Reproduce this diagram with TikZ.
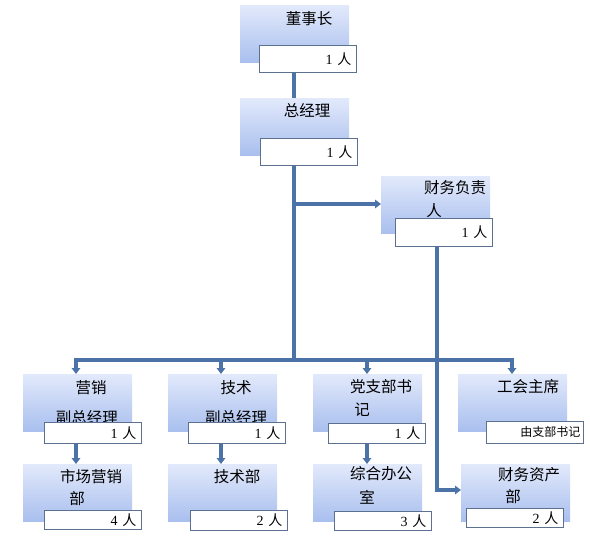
\documentclass[tikz,border=0pt]{standalone}
\usepackage{fontspec}
\setmainfont{Liberation Serif}
\newfontfamily\cjk{Noto Sans CJK SC}
\usetikzlibrary{arrows.meta}
\definecolor{bTop}{HTML}{E2E9FB}
\definecolor{bBot}{HTML}{A9BFEE}
\definecolor{connc}{HTML}{4C73A8}
\definecolor{boxline}{HTML}{5C7190}
\newcommand\nm[1]{{\rmfamily #1}}
\begin{document}
\begin{tikzpicture}[x=1pt,y=-1pt,
  bluebox/.style={rectangle, anchor=north west, minimum width=109pt, minimum height=57pt,
    inner sep=0pt, top color=bTop, bottom color=bBot, draw=none},
  cntbox/.style={rectangle, anchor=north west, fill=white, draw=boxline, line width=0.7pt,
    minimum height=#1, text width=87pt, inner xsep=5pt, inner ysep=0pt, align=right,
    font=\cjk\fontsize{14pt}{16pt}\selectfont},
  lbl/.style={inner sep=0pt, font=\cjk\fontsize{15.5pt}{17pt}\selectfont},
  conn/.style={draw=connc, line width=3.2pt},
  arr/.style={conn, -{Triangle[length=6pt,width=8.5pt]}}
]
\useasboundingbox (0,0) rectangle (590,538);
% coordinates
\coordinate (bus) at (294,360);
\coordinate (c1) at (76,360);
\coordinate (c2) at (221,360);
\coordinate (c3) at (367,360);
\coordinate (c4) at (512,360);
\coordinate (j1) at (294,204);
\coordinate (f2) at (437,490);

% row 0
\node[bluebox] (b1) at (240,5) {};
\node[lbl] (t1) at (309,19) {董事长};
\node[bluebox] (b2) at (240,98) {};
\node[lbl] (t2) at (307,111) {总经理};
\node[bluebox] (b3) at (381,176) {};
\node[lbl] (t3a) at (455,188) {财务负责};
\node[lbl] (t3b) at (434,211) {人};

% row 1
\node[bluebox] (b4) at (23,374) {};
\node[lbl] (t4a) at (91,388) {营销};
\node[lbl] (t4b) at (87,418) {副总经理};
\node[bluebox] (b5) at (168,374) {};
\node[lbl] (t5a) at (236,388) {技术};
\node[lbl] (t5b) at (236,418) {副总经理};
\node[bluebox] (b6) at (313,374) {};
\node[lbl] (t6a) at (381,387) {党支部书};
\node[lbl] (t6b) at (362,410) {记};
\node[bluebox] (b7) at (458,374) {};
\node[lbl] (t7) at (528,387) {工会主席};

% row 2
\node[bluebox] (b8) at (23,464) {};
\node[lbl] (t8a) at (91,477) {市场营销};
\node[lbl] (t8b) at (77,499) {部};
\node[bluebox] (b9) at (168,464) {};
\node[lbl] (t9) at (237,477) {技术部};
\node[bluebox] (b10) at (313,464) {};
\node[lbl] (t10a) at (381,474) {综合办公};
\node[lbl] (t10b) at (367,497) {室};
\node[bluebox] (b11) at (461,464) {};
\node[lbl] (t11a) at (529,475) {财务资产};
\node[lbl] (t11b) at (513,497) {部};

% count boxes
\node[cntbox=27pt] (w1) at (259,45) {\nm{1}~人};
\node[cntbox=27pt] (w2) at (260,138) {\nm{1}~人};
\node[cntbox=28pt] (w3) at (395,218) {\nm{1}~人};
\node[cntbox=21pt] (w4) at (44,422) {\nm{1}~人};
\node[cntbox=21pt] (w5) at (188,422) {\nm{1}~人};
\node[cntbox=20pt] (w6) at (328,423) {\nm{1}~人};
\node[cntbox=22pt, font=\cjk\fontsize{12pt}{14pt}\selectfont, inner xsep=3pt, text width=91pt] (w7) at (486,421) {由支部书记};
\node[cntbox=19pt] (w8) at (44,510) {\nm{4}~人};
\node[cntbox=20pt] (w9) at (190,510) {\nm{2}~人};
\node[cntbox=19pt] (w10) at (334,511) {\nm{3}~人};
\node[cntbox=19pt] (w11) at (466,508) {\nm{2}~人};

% connectors
\draw[conn] (w1.south -| bus) -- (b2.north -| bus);
\draw[conn] (w2.south -| bus) -- (bus);
\draw[arr] (j1) -- (b3.west |- j1);
\draw[conn, line cap=rect] (c1) -- (c4);
\draw[arr] (c1) -- (b4.north -| c1);
\draw[arr] (c2) -- (b5.north -| c2);
\draw[arr] (c3) -- (b6.north -| c3);
\draw[arr] (c4) -- (b7.north -| c4);
\draw[arr] (w4.south -| c1) -- (b8.north -| c1);
\draw[arr] (w5.south -| c2) -- (b9.north -| c2);
\draw[arr] (w6.south -| c3) -- (b10.north -| c3);
\draw[arr] (w3.south -| f2) -- (f2) -- (b11.west |- f2);
\end{tikzpicture}
\end{document}
